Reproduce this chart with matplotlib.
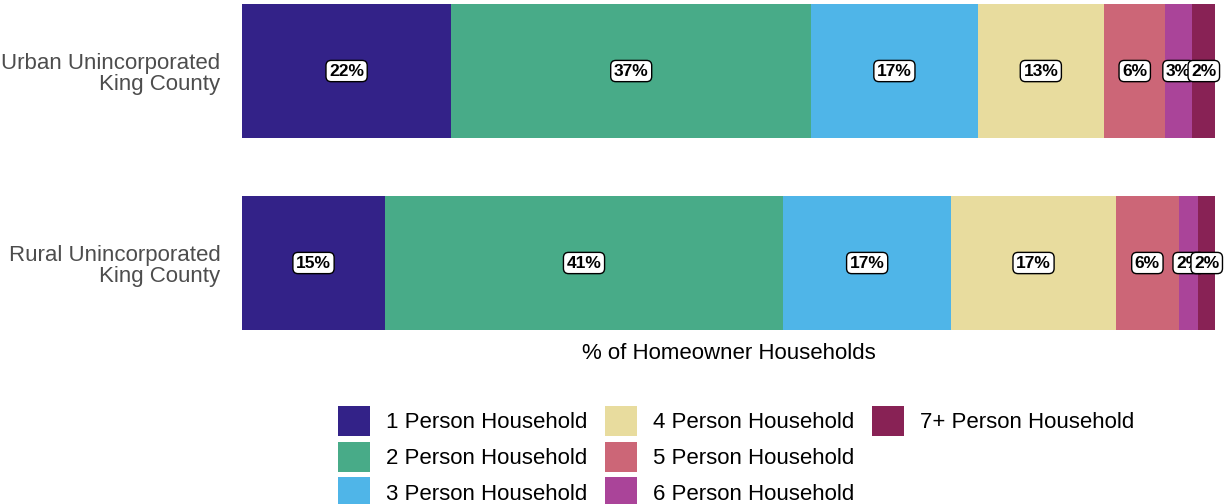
import matplotlib.pyplot as plt
from matplotlib.patches import Patch

plt.rcParams['font.family'] = ['Liberation Sans', 'DejaVu Sans']

regions = ['Rural Unincorporated\nKing County', 'Urban Unincorporated\nKing County']
groups = ['1 Person Household', '2 Person Household', '3 Person Household',
          '4 Person Household', '5 Person Household', '6 Person Household',
          '7+ Person Household']
# share of homeowner households (%), one list per region, in the order of groups
rural = [14.7, 40.9, 17.3, 16.9, 6.5, 2.0, 1.7]
urban = [21.5, 37.0, 17.1, 13.0, 6.3, 2.7, 2.5]
colors = ['#332288', '#48AB88', '#4FB5E8', '#E8DC9E', '#CC6677', '#AA4499', '#882255']

W, H = 1225, 504
fig = plt.figure(figsize=(W / 100, H / 100), dpi=100)
ax = fig.add_axes([242 / W, 1 - 335 / H, 973 / W, 335 / H])

values = [rural, urban]
for i, row in enumerate(values):
    left = 0
    for j, v in enumerate(row):
        ax.barh(i, v, left=left, height=0.7, color=colors[j], linewidth=0)
        ax.text(left + v / 2, i, '%d%%' % round(v), ha='center', va='center',
                fontsize=12.5, fontweight='bold', color='black',
                bbox=dict(boxstyle='round,pad=0.18,rounding_size=0.3',
                          fc='white', ec='black', lw=1))
        left += v

ax.set_xlim(0, 100)
ax.set_ylim(-0.375, 1.37)
ax.set_yticks(range(len(regions)))
ax.set_yticklabels(regions, fontsize=16, color='#4D4D4D', linespacing=1.05)
ax.tick_params(length=0, pad=15.5)
ax.set_xticks([])
for s in ax.spines.values():
    s.set_visible(False)
ax.set_xlabel('% of Homeowner Households', fontsize=16, labelpad=6)

handles = [Patch(facecolor=c, edgecolor='none') for c in colors]
labels = list(groups)
# two blank entries so the third column only holds the last group
handles += [Patch(facecolor='none', edgecolor='none')] * 2
labels += ['', '']
fig.legend(handles, labels, ncol=3, loc='upper left',
           bbox_to_anchor=(338 / W, 1 - 406 / H), frameon=False, fontsize=16,
           handlelength=1.44, handleheight=1.72, labelspacing=0.24,
           handletextpad=0.72, columnspacing=0.8, borderpad=0, borderaxespad=0)

fig.savefig('out.png', dpi=100)
